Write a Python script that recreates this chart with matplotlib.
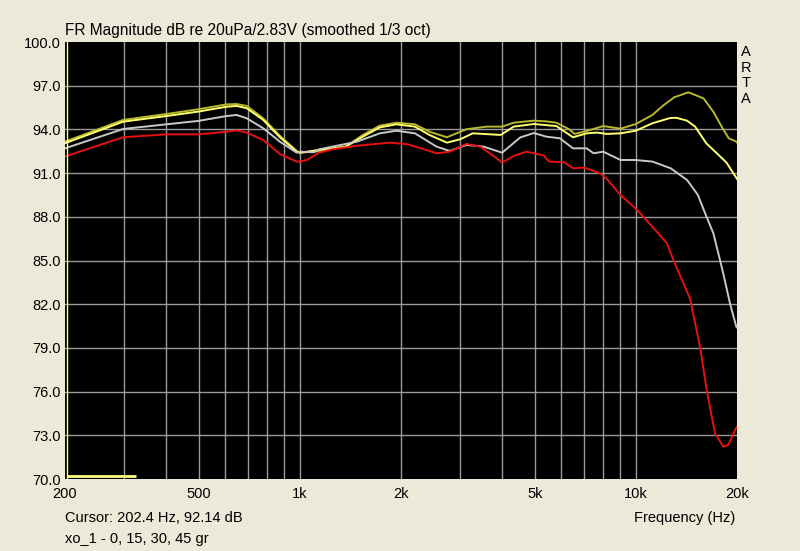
import matplotlib.pyplot as plt
import numpy as np
from matplotlib.ticker import FixedLocator, NullFormatter

freq_red = [200, 298, 401, 498, 606, 649, 695, 778, 873, 979, 1000, 1049, 1140, 1250,
            1480, 1850, 2090, 2350, 2550, 2790, 3130, 3440, 3770, 4000, 4330, 4720,
            5310, 5520, 6120, 6510, 7020, 7800, 8200, 9000, 10060, 11020, 12350,
            13230, 14490, 15520, 16250, 17200, 18210, 18840, 19860, 20000]
db_red = [92.14, 93.46, 93.66, 93.66, 93.84, 93.93, 93.78, 93.27, 92.3, 91.79, 91.79,
          91.9, 92.4, 92.63, 92.88, 93.09, 92.98, 92.63, 92.36, 92.47, 93.0, 92.82,
          92.18, 91.72, 92.18, 92.47, 92.22, 91.79, 91.74, 91.33, 91.38, 91.0, 90.6,
          89.5, 88.5, 87.5, 86.2, 84.5, 82.4, 79.1, 76.1, 73.14, 72.22, 72.34, 73.48,
          73.6]

freq_silver = [200, 298, 401, 498, 606, 649, 695, 778, 873, 979, 1000, 1100, 1140,
               1480, 1730, 1940, 2200, 2550, 2790, 3130, 3520, 4000, 4530, 4970, 5420,
               5940, 6500, 7140, 7480, 8000, 9000, 9960, 11200, 12700, 14200, 15300,
               16100, 17010, 18200, 19060, 19900, 20000]
db_silver = [92.7, 94.03, 94.35, 94.58, 94.92, 94.99, 94.76, 94.08, 93.15, 92.4, 92.47,
             92.43, 92.63, 93.16, 93.73, 93.91, 93.73, 92.82, 92.52, 92.93, 92.82,
             92.4, 93.45, 93.75, 93.5, 93.39, 92.7, 92.7, 92.36, 92.47, 91.9, 91.9,
             91.79, 91.33, 90.53, 89.5, 88.2, 86.87, 84.12, 82.06, 80.46, 80.4]

freq_yellow = [200, 298, 401, 498, 606, 649, 695, 778, 873, 979, 1000, 1140, 1370,
               1540, 1730, 1940, 2200, 2430, 2740, 3000, 3270, 3960, 4330, 4970, 5800,
               6500, 7140, 7660, 8200, 9000, 10000, 11200, 12640, 13200, 14200, 15000,
               16200, 17900, 18640, 20000]
db_yellow = [93.05, 94.53, 94.92, 95.22, 95.56, 95.61, 95.45, 94.65, 93.45, 92.47,
             92.4, 92.59, 92.82, 93.5, 94.14, 94.35, 94.19, 93.62, 93.09, 93.32, 93.73,
             93.62, 94.19, 94.37, 94.23, 93.46, 93.73, 93.78, 93.69, 93.73, 93.91,
             94.42, 94.78, 94.8, 94.6, 94.2, 93.05, 92.1, 91.7, 90.6]

freq_olive = [200, 298, 401, 498, 606, 649, 695, 778, 873, 979, 1000, 1140, 1370,
              1540, 1730, 1940, 2200, 2430, 2740, 3130, 3600, 4000, 4330, 4970, 5420,
              5800, 6330, 6570, 7140, 8000, 9000, 10000, 11200, 12000, 13000, 14330,
              15900, 17000, 18000, 18900, 19900, 20000]
db_olive = [93.16, 94.65, 95.06, 95.38, 95.72, 95.74, 95.61, 94.76, 93.55, 92.52, 92.4,
            92.5, 92.82, 93.62, 94.26, 94.46, 94.35, 93.84, 93.46, 94.01, 94.19, 94.19,
            94.46, 94.6, 94.55, 94.46, 94.01, 93.69, 93.89, 94.23, 94.05, 94.37, 94.99,
            95.6, 96.2, 96.55, 96.13, 95.22, 94.19, 93.39, 93.16, 93.1]

x_ticks = [200, 500, 1000, 2000, 5000, 10000, 20000]
x_labels = ['200', '500', '1k', '2k', '5k', '10k', '20k']
y_ticks = np.arange(70, 100.1, 3)

bg = '#ECE9D8'
plt.rcParams['font.family'] = ['Liberation Sans', 'DejaVu Sans']

fig = plt.figure(figsize=(8, 5.51), dpi=100, facecolor=bg)
ax = fig.add_axes([65 / 800, 72 / 551, 672 / 800, 437 / 551])
ax.set_facecolor('black')

ax.set_xscale('log')
ax.set_xlim(200, 20000)
ax.set_ylim(70, 100)

# grid: every 100 Hz / 1 kHz / 10 kHz decade line, and every 3 dB
grid_f = list(range(300, 1000, 100)) + list(range(1000, 10000, 1000)) + [10000]
for f in grid_f:
    ax.axvline(f, color='#9A9A9A', lw=1, zorder=1)
for y in y_ticks[1:-1]:
    ax.axhline(y, color='#9A9A9A', lw=1, zorder=1)

ax.plot(freq_red, db_red, color='#E81010', lw=1.4, zorder=5)
ax.plot(freq_silver, db_silver, color='#C8C8C8', lw=1.4, zorder=4)
ax.plot(freq_yellow, db_yellow, color='#FFFF70', lw=1.4, zorder=3)
ax.plot(freq_olive, db_olive, color='#B8B82C', lw=1.4, zorder=2)

# cursor marker
ax.axvline(202.4, color='#FFFF80', lw=1, zorder=6)
ax.hlines(70.2, 202.4, 325, color='#FFFF80', lw=2, zorder=6)

ax.xaxis.set_major_locator(FixedLocator(x_ticks))
ax.xaxis.set_minor_formatter(NullFormatter())
ax.set_xticks(x_ticks)
ax.set_xticklabels(x_labels)
ax.set_yticks(y_ticks)
ax.set_yticklabels([f'{v:.1f}' for v in y_ticks])
ax.tick_params(axis='both', which='both', length=0, labelsize=10.5, colors='black')
ax.tick_params(axis='x', pad=6)
ax.tick_params(axis='y', pad=3)
for s in ax.spines.values():
    s.set_visible(False)

fig.text(65 / 800, 1 - 31 / 551, 'FR Magnitude dB re 20uPa/2.83V (smoothed 1/3 oct)',
         fontsize=11.2, va='center', ha='left')
for i, ch in enumerate('ARTA'):
    fig.text(746 / 800, 1 - (52 + i * 15.7) / 551, ch, fontsize=10.5, ha='center', va='center')
fig.text(65 / 800, 1 - 518 / 551, 'Cursor: 202.4 Hz, 92.14 dB', fontsize=10.5,
         va='center', ha='left')
fig.text(65 / 800, 1 - 539 / 551, 'xo_1 - 0, 15, 30, 45 gr', fontsize=10.5,
         va='center', ha='left')
fig.text(735 / 800, 1 - 518 / 551, 'Frequency (Hz)', fontsize=10.5, va='center', ha='right')

fig.savefig('out.png', dpi=100, facecolor=bg)
